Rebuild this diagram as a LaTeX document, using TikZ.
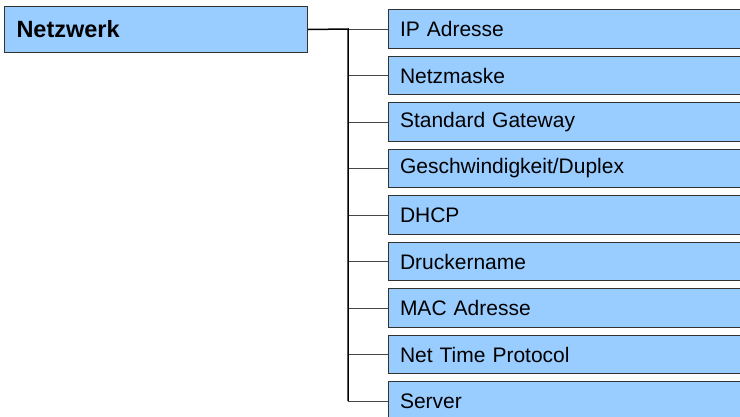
\documentclass[tikz,border=0pt]{standalone}
\usepackage{fontspec}
\setmainfont{Liberation Sans}
\definecolor{boxfill}{RGB}{153,204,255}
\definecolor{boxline}{RGB}{50,50,50}
\definecolor{branchline}{RGB}{70,70,70}
\begin{document}
\begin{tikzpicture}[x=1pt,y=-1pt,
  rootbox/.style={draw=boxline,fill=boxfill,line width=1pt,anchor=north west,
    minimum height=46pt,text width=279pt,align=left,inner xsep=12pt,inner ysep=0pt,
    font=\fontsize{23.5}{25}\selectfont\bfseries},
  childbox/.style={draw=boxline,fill=boxfill,line width=1pt,anchor=north west,
    minimum height=38.5pt,text width=349pt,align=left,inner xsep=11.5pt,inner ysep=0pt,
    font=\fontsize{21}{23}\selectfont},
  busline/.style={draw=black,line width=1.5pt},
  branch/.style={draw=branchline,line width=1pt}]
\useasboundingbox (0,0) rectangle (740,416);
\clip (0,0) rectangle (740,416);
\node[rootbox] (root) at (4,6) {Netzwerk};
\foreach \t [count=\i] in {IP Adresse,Netzmaske,Standard Gateway,Geschwindigkeit/Duplex,DHCP,Druckername,MAC Adresse,Net Time Protocol,Server}{
  \node[childbox] (c\i) at (388,{9.3+46.5*(\i-1)}) {\t};
}
\coordinate (bt) at (348,29);
\foreach \i in {1,...,9}{
  \draw[branch] (c\i.west -| bt) -- (c\i.west);
}
\draw[busline] (root.east) -- (bt) -- (c9.west -| bt);
\end{tikzpicture}
\end{document}
